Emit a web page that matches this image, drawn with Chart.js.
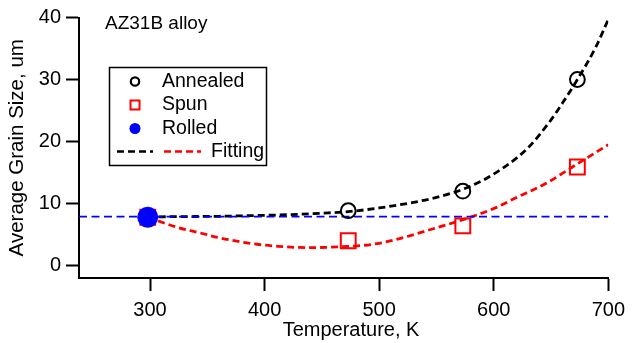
<!DOCTYPE html>
<html>
<head>
<meta charset="utf-8">
<script src="https://cdn.jsdelivr.net/npm/chart.js@4/dist/chart.umd.min.js"></script>
<style>
  html, body { margin: 0; padding: 0; background: #ffffff; }
  #wrap { width: 632px; height: 343px; position: relative; }
</style>
</head>
<body>
<div id="wrap"><canvas id="c" width="632" height="343"></canvas></div>
<script>
// Axis ticks
const xTicks = [300, 400, 500, 600, 700];
const yTicks = [0, 10, 20, 30, 40];

// Measured grain sizes (um) vs temperature (K)
const annealedT = [473, 573, 673];
const annealedSize = [8.85, 12.0, 30.0];

const spunT = [298, 473, 573, 673];
const spunSize = [7.8, 4.0, 6.4, 15.9];

const rolledT = [298];
const rolledSize = [7.8];

// As-rolled reference level
const rolledLineT = [238, 700];
const rolledLineSize = [7.9, 7.9];

// Fitted trends
const annealFitT = [298, 330, 360, 386, 420, 450, 473, 500, 530, 550, 573, 590, 602, 619, 631, 648, 660, 673, 689, 700];
const annealFitSize = [7.85, 7.9, 7.95, 8.05, 8.2, 8.45, 8.7, 9.3, 10.2, 11.0, 12.3, 13.7, 15.0, 17.2, 19.2, 23.0, 26.2, 30.0, 35.2, 39.7];

const spunFitT = [298, 325, 343, 360, 377, 395, 412, 438, 473, 500, 550, 582, 602, 619, 645, 673, 700];
const spunFitSize = [7.8, 6.1, 5.3, 4.5, 3.9, 3.4, 3.1, 2.9, 3.1, 3.6, 6.1, 7.95, 9.35, 10.9, 13.2, 16.4, 19.5];

const FONT = "'Liberation Sans', Arial, sans-serif";

function pts(xs, ys) { return xs.map((x, i) => ({ x: x, y: ys[i] })); }

// Legend box, panel label and x-axis caption drawn after the plot
const panelPlugin = {
  id: 'panel',
  afterDraw(chart) {
    const ctx = chart.ctx;
    ctx.save();
    ctx.fillStyle = '#000';
    ctx.textBaseline = 'middle';

    ctx.font = '20px ' + FONT;
    ctx.textAlign = 'center';
    ctx.fillText('Temperature, K', 351, 330.5);

    ctx.textAlign = 'left';
    ctx.font = '19px ' + FONT;
    ctx.fillText('AZ31B alloy', 105, 24);

    // legend frame
    ctx.lineWidth = 1.5;
    ctx.strokeStyle = '#000';
    ctx.strokeRect(109.5, 67.5, 157, 98);

    ctx.font = '19.5px ' + FONT;
    const sx = 135, tx = 162;
    const rows = [81.5, 105, 128.5, 151.5];
    // Annealed
    ctx.beginPath();
    ctx.lineWidth = 2.2;
    ctx.strokeStyle = '#000';
    ctx.arc(sx, rows[0], 4.2, 0, Math.PI * 2);
    ctx.stroke();
    ctx.fillText('Annealed', tx, rows[0]);
    // Spun
    ctx.lineWidth = 2;
    ctx.strokeStyle = '#ff0000';
    ctx.strokeRect(sx - 4.5, rows[1] - 4.5, 9, 9);
    ctx.fillText('Spun', tx, rows[1]);
    // Rolled
    ctx.beginPath();
    ctx.fillStyle = '#0000ff';
    ctx.arc(sx, rows[2], 5.5, 0, Math.PI * 2);
    ctx.fill();
    ctx.fillStyle = '#000';
    ctx.fillText('Rolled', tx, rows[2]);
    // Fitting
    ctx.lineWidth = 2.5;
    ctx.setLineDash([7, 4]);
    ctx.strokeStyle = '#000';
    ctx.beginPath(); ctx.moveTo(117, rows[3]); ctx.lineTo(153, rows[3]); ctx.stroke();
    ctx.strokeStyle = '#ff0000';
    ctx.beginPath(); ctx.moveTo(164, rows[3]); ctx.lineTo(201, rows[3]); ctx.stroke();
    ctx.setLineDash([]);
    ctx.fillText('Fitting', 211, rows[3]);
    ctx.restore();
  }
};

const tickFont = { family: FONT, size: 20 };

new Chart(document.getElementById('c'), {
  type: 'scatter',
  data: {
    datasets: [
      { label: 'Rolled', data: pts(rolledT, rolledSize), order: 1,
        pointStyle: 'circle', pointRadius: 10.5, pointBorderWidth: 0,
        backgroundColor: '#0000ff', borderColor: '#0000ff', showLine: false },
      { label: 'Spun', data: pts(spunT, spunSize), order: 2,
        pointStyle: 'rect', pointRadius: 10.5, pointBorderWidth: 2,
        backgroundColor: 'rgba(0,0,0,0)', borderColor: '#ff0000', showLine: false },
      { label: 'Annealed', data: pts(annealedT, annealedSize), order: 3,
        pointStyle: 'circle', pointRadius: 7.4, pointBorderWidth: 2,
        backgroundColor: 'rgba(0,0,0,0)', borderColor: '#000000', showLine: false },
      { label: 'Rolled level', data: pts(rolledLineT, rolledLineSize), order: 4,
        showLine: true, pointRadius: 0, borderColor: '#0000ff', borderWidth: 1.8,
        borderDash: [8, 4.5] },
      { label: 'Spun fit', data: pts(spunFitT, spunFitSize), order: 5,
        showLine: true, pointRadius: 0, borderColor: '#ff0000', borderWidth: 2.8,
        borderDash: [7, 4], cubicInterpolationMode: 'monotone' },
      { label: 'Annealed fit', data: pts(annealFitT, annealFitSize), order: 6,
        showLine: true, pointRadius: 0, borderColor: '#000000', borderWidth: 2.8,
        borderDash: [7, 4], cubicInterpolationMode: 'monotone' }
    ]
  },
  options: {
    responsive: false,
    animation: false,
    events: [],
    layout: { padding: { left: 0, right: 19, top: 17.5, bottom: 0 } },
    plugins: { legend: { display: false }, tooltip: { enabled: false } },
    scales: {
      x: {
        type: 'linear', min: 238, max: 700,
        afterFit(scale) { scale.height = 65; },
        afterBuildTicks(scale) { scale.ticks = xTicks.map(v => ({ value: v })); },
        border: { display: true, color: '#000', width: 2 },
        grid: { drawOnChartArea: false, drawTicks: true, tickLength: 13, tickWidth: 2, tickColor: '#000' },
        ticks: { color: '#000', font: tickFont, padding: 7, maxRotation: 0 }
      },
      y: {
        type: 'linear', min: -2, max: 40,
        afterFit(scale) { scale.width = 79; },
        afterBuildTicks(scale) { scale.ticks = yTicks.map(v => ({ value: v })); },
        border: { display: true, color: '#000', width: 2 },
        grid: { drawOnChartArea: false, drawTicks: true, tickLength: 13, tickWidth: 2, tickColor: '#000' },
        ticks: { color: '#000', font: tickFont, padding: 5 },
        title: { display: true, text: 'Average Grain Size, um', color: '#000',
                 font: { family: FONT, size: 20.5 }, padding: { top: 5, bottom: 0 } }
      }
    }
  },
  plugins: [panelPlugin]
});
</script>
</body>
</html>
